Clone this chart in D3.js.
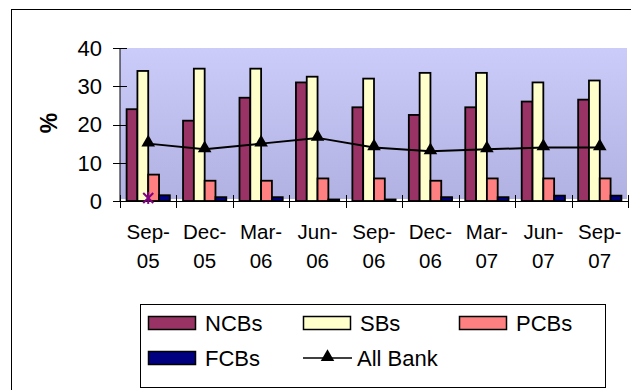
<!DOCTYPE html>
<html><head><meta charset="utf-8">
<script src="https://cdn.jsdelivr.net/npm/d3@7"></script>
<style>body{margin:0;background:#fff}svg{display:block;font-family:"Liberation Sans",Arial,sans-serif}</style>
</head><body><svg id="c" width="631" height="390"></svg>
<script>
const categories = [["Sep-","05"],["Dec-","05"],["Mar-","06"],["Jun-","06"],["Sep-","06"],["Dec-","06"],["Mar-","07"],["Jun-","07"],["Sep-","07"]];
const catKeys = categories.map(c => c.join(""));
const NCBs = [24, 21, 27, 31, 24.5, 22.5, 24.5, 26, 26.5];
const SBs  = [34, 34.6, 34.6, 32.5, 32, 33.5, 33.5, 31, 31.5];
const PCBs = [6.9, 5.3, 5.3, 5.9, 5.9, 5.3, 5.9, 5.9, 5.9];
const FCBs = [1.5, 1.0, 1.0, 0.4, 0.4, 1.0, 1.0, 1.4, 1.4];
const AllBank = [15, 13.5, 15, 16.5, 14, 13, 13.5, 14, 14];
const starPoint = [{cat: 0, value: 0.8}];
const yTicks = [0, 10, 20, 30, 40];
const seriesNames = ["NCBs","SBs","PCBs","FCBs"];
const seriesColors = ["#993366","#FFFFCC","#FF8080","#000080"];
const seriesData = [NCBs, SBs, PCBs, FCBs];

const svg = d3.select("#c");
const x = d3.scaleBand().domain(catKeys).range([120, 628]).padding(0);
const xs = d3.scaleBand().domain(seriesNames).range([6.6, x.bandwidth() - 6.6]).padding(0);
const y = d3.scaleLinear().domain([0, 40]).range([201, 48]);

// outer border
svg.append("rect").attr("x", 11.5).attr("y", 9.5).attr("width", 640).attr("height", 400)
  .attr("fill", "none").attr("stroke", "#000").attr("stroke-width", 1);

// plot background gradient
const defs = svg.append("defs");
const g = defs.append("linearGradient").attr("id", "bg").attr("x1", 0).attr("y1", 0).attr("x2", 0).attr("y2", 1);
g.append("stop").attr("offset", "0%").attr("stop-color", "#CCCCFA");
g.append("stop").attr("offset", "100%").attr("stop-color", "#B1B1E2");
svg.append("rect").attr("x", 120).attr("y", y(40)).attr("width", 507).attr("height", y(0) - y(40) - 2)
  .attr("fill", "url(#bg)");

// bars
seriesNames.forEach((name, si) => {
  svg.append("g").selectAll("rect").data(seriesData[si]).join("rect")
    .attr("x", (d, i) => x(catKeys[i]) + xs(name))
    .attr("y", d => y(d))
    .attr("width", xs.bandwidth())
    .attr("height", d => y(0) - y(d))
    .attr("fill", seriesColors[si])
    .attr("stroke", "#000").attr("stroke-width", 1.8);
});

// y axis
const yAxis = svg.append("g");
yAxis.append("line").attr("x1", 120).attr("x2", 120).attr("y1", y(40)).attr("y2", y(0)).attr("stroke", "#000");
yTicks.forEach(t => {
  yAxis.append("line").attr("x1", 113).attr("x2", 127).attr("y1", Math.round(y(t)) + 0.5).attr("y2", Math.round(y(t)) + 0.5).attr("stroke", "#000");
  yAxis.append("text").attr("x", 102).attr("y", y(t)).attr("dy", "0.36em").attr("text-anchor", "end")
    .attr("font-size", 22).attr("fill", "#000").text(t);
});

// x axis
const xAxis = svg.append("g");
xAxis.append("line").attr("x1", 120).attr("x2", 628).attr("y1", y(0) + 0.5).attr("y2", y(0) + 0.5).attr("stroke", "#000");
const bounds = catKeys.map(k => x(k)).concat([x.range()[1]]);
bounds.forEach(b => {
  xAxis.append("line").attr("x1", Math.round(b) + 0.5).attr("x2", Math.round(b) + 0.5).attr("y1", 195).attr("y2", 208).attr("stroke", "#000");
});
categories.forEach((c, i) => {
  const cx = x(catKeys[i]) + x.bandwidth() / 2;
  xAxis.append("text").attr("x", cx).attr("y", 239).attr("text-anchor", "middle").attr("font-size", 20.5).attr("fill", "#000").text(c[0]);
  xAxis.append("text").attr("x", cx).attr("y", 268).attr("text-anchor", "middle").attr("font-size", 20.5).attr("fill", "#000").text(c[1]);
});

// y label
svg.append("text").attr("transform", "translate(57,123) rotate(-90)").attr("text-anchor", "middle")
  .attr("font-size", 23).attr("font-weight", "bold").attr("fill", "#000").text("%");

// All Bank line
const cxOf = i => x(catKeys[i]) + x.bandwidth() / 2;
svg.append("path").datum(AllBank)
  .attr("d", d3.line().x((d, i) => cxOf(i)).y(d => y(d)))
  .attr("fill", "none").attr("stroke", "#000").attr("stroke-width", 2);
const tri = d3.symbol().type(d3.symbolTriangle).size(80);
svg.append("g").selectAll("path").data(AllBank).join("path")
  .attr("transform", (d, i) => `translate(${cxOf(i)},${y(d) - 1})`)
  .attr("d", tri).attr("fill", "#000");

// star marker
starPoint.forEach(p => {
  const sx = cxOf(p.cat), sy = y(p.value);
  const gS = svg.append("g").attr("stroke", "#800080").attr("stroke-width", 2);
  gS.append("line").attr("x1", sx - 5).attr("x2", sx + 5).attr("y1", sy - 5).attr("y2", sy + 5);
  gS.append("line").attr("x1", sx - 5).attr("x2", sx + 5).attr("y1", sy + 5).attr("y2", sy - 5);
  gS.append("line").attr("x1", sx).attr("x2", sx).attr("y1", sy - 6).attr("y2", sy + 6);
});

// legend
const leg = svg.append("g");
leg.append("rect").attr("x", 140.5).attr("y", 304.5).attr("width", 465).attr("height", 83)
  .attr("fill", "#fff").attr("stroke", "#000").attr("stroke-width", 1);
const legPos = [[148, 323], [303, 323], [459, 323], [148, 358]];
seriesNames.forEach((name, si) => {
  const [lx, ly] = legPos[si];
  leg.append("rect").attr("x", lx + 0.5).attr("y", ly - 6.5).attr("width", 47).attr("height", 13)
    .attr("fill", seriesColors[si]).attr("stroke", "#000").attr("stroke-width", 1.5);
  leg.append("text").attr("x", lx + 57).attr("y", ly).attr("dy", "0.36em").attr("font-size", 22).attr("fill", "#000").text(name);
});
leg.append("line").attr("x1", 303).attr("x2", 352).attr("y1", 358).attr("y2", 358).attr("stroke", "#000").attr("stroke-width", 1.5);
leg.append("path").attr("transform", "translate(327.5,357)").attr("d", tri).attr("fill", "#000");
leg.append("text").attr("x", 357).attr("y", 358).attr("dy", "0.36em").attr("font-size", 22).attr("fill", "#000").text("All Bank");
</script></body></html>
